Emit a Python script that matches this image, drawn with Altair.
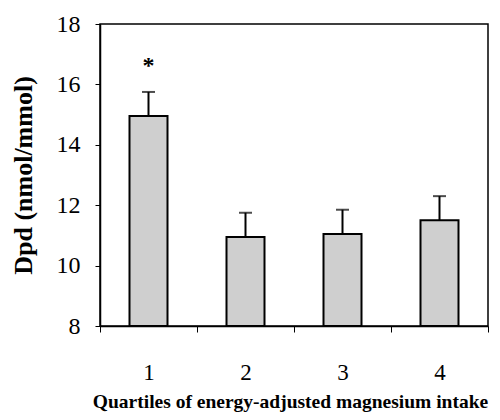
import altair as alt
import pandas as pd

quartiles = ["1", "2", "3", "4"]
means = [14.95, 10.95, 11.05, 11.5]
upper = [15.75, 11.75, 11.85, 12.3]
marks = ["*", "", "", ""]
mark_pos = [16.6, None, None, None]

df = pd.DataFrame({"q": quartiles, "mean": means, "upper": upper,
                   "mark": marks, "mpos": mark_pos})

FONT = "Liberation Serif"

x = alt.X("q:N", title="Quartiles of energy-adjusted magnesium intake",
          scale=alt.Scale(paddingInner=0, paddingOuter=0),
          axis=alt.Axis(labelAngle=0, tickBand="extent", tickSize=6,
                        labelPadding=29, titlePadding=8, domainWidth=1.5,
                        tickWidth=1, domainColor="black", tickColor="black",
                        labelFont=FONT, labelFontSize=23, labelColor="black",
                        titleFont=FONT, titleFontSize=19.5, titleFontWeight="bold",
                        titleColor="black", titleX=190))
y = alt.Y("mean:Q", title="Dpd (nmol/mmol)",
          scale=alt.Scale(domain=[8, 18], nice=False, zero=False),
          axis=alt.Axis(values=[8, 10, 12, 14, 16, 18], grid=False, tickSize=5,
                        labelPadding=15, domainWidth=1.5, tickWidth=1,
                        domainColor="black", tickColor="black",
                        labelFont=FONT, labelFontSize=24, labelColor="black",
                        titleFont=FONT, titleFontSize=26, titleFontWeight="bold",
                        titleColor="black", titlePadding=20))

base = alt.Chart(df)

bars = base.mark_bar(size=38, fill="#cfcfcf", stroke="black", strokeWidth=2).encode(
    x=x, y=y, y2=alt.datum(8))
rules = base.mark_rule(color="black", strokeWidth=2).encode(x="q:N", y="mean:Q", y2="upper:Q")
caps = base.mark_tick(color="black", size=13, thickness=2, orient="horizontal").encode(x="q:N", y="upper:Q")
star = base.mark_text(font=FONT, fontSize=24, fontWeight="bold", color="black",
                      baseline="middle").encode(
    x="q:N", y="mpos:Q", text="mark:N")

chart = alt.layer(bars, rules, caps, star).properties(
    width=388, height=302,
    autosize=alt.AutoSizeParams(type="none"),
    padding={"left": 92, "top": 16, "right": 4, "bottom": 86},
).configure(background="white",
            view=alt.ViewConfig(stroke="black", strokeWidth=1.5))

chart.save("out.html", embed_options={"renderer": "svg", "actions": False})
